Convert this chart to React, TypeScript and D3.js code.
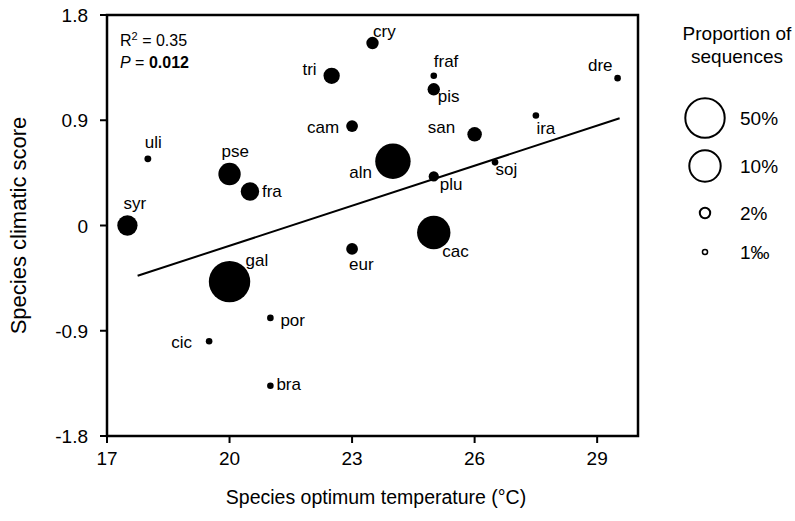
import React from "react";
import * as d3 from "d3";

const species = ["syr","uli","pse","fra","gal","cic","por","bra","tri","cam","eur","cry","aln","fraf","pis","plu","cac","san","soj","ira","dre"];
const optimumTemp = [17.5,18,20,20.5,20,19.5,21,21,22.5,23,23,23.5,24,25,25,25,25,26,26.5,27.5,29.5];
const climaticScore = [0.0,0.57,0.44,0.29,-0.48,-0.99,-0.79,-1.37,1.28,0.85,-0.2,1.56,0.55,1.28,1.165,0.42,-0.06,0.78,0.54,0.94,1.26];
const proportion = [0.05,0.002,0.058,0.043,0.5,0.001,0.001,0.001,0.035,0.018,0.018,0.02,0.2,0.001,0.02,0.013,0.1,0.028,0.001,0.001,0.001];

const xTicks = [17,20,23,26,29];
const yTicks = [1.8,0.9,0,-0.9,-1.8];
const yTickLabels = ["1.8","0.9","0","-0.9","-1.8"];
const legendProps = [0.5,0.1,0.02,0.001];
const legendLabels = ["50%","10%","2%","1‰"];
const trendX = [17.75,29.55];
const trendSlope = 0.1141;
const trendIntercept = -2.455;

// label placement (style): [dx, dy, anchor]
const labelPos: Record<string, [number, number, string]> = {
  syr: [-4, -17, "start"], uli: [-3, -11, "start"], pse: [-8, -17, "start"], fra: [12, 5, "start"],
  gal: [16, -16, "start"], cic: [-17, 7, "end"], por: [10, 8, "start"], bra: [6, 4.5, "start"],
  tri: [-15, -1, "end"], cam: [-13, 6.5, "end"], eur: [-3, 21, "start"], cry: [0.5, -6, "start"],
  aln: [-21, 17, "end"], fraf: [0, -8.5, "start"], pis: [4, 12.5, "start"], plu: [6, 13.5, "start"],
  cac: [8.5, 24, "start"], san: [-19.5, -1, "end"], soj: [0.5, 12.5, "start"], ira: [0.5, 18, "start"],
  dre: [-5, -7, "end"],
};
const legendY = [118, 166, 213, 252];

const W = 795, H = 521;
const L = 107, R = 638, T = 15, B = 436;
const FONT = "'Liberation Sans', Arial, sans-serif";

export default function App() {
  const x = d3.scaleLinear().domain([17, 30]).range([L, R]);
  const y = d3.scaleLinear().domain([-1.8, 1.8]).range([B, T]);
  const r = d3.scaleLinear().domain([0.001, 0.02, 0.1, 0.5]).range([3.3, 6.2, 16.7, 20.7]);
  const line = d3.line<number>().x(v => x(v)).y(v => y(trendIntercept + trendSlope * v));
  const order = d3.range(species.length).sort((a, b) => proportion[b] - proportion[a]);

  return (
    <svg width={W} height={H} style={{ position: "absolute", left: 0, top: 0, background: "#fff" }} fontFamily={FONT}>
      <rect x={0} y={0} width={W} height={H} fill="#fff" />
      <path d={line(trendX) || ""} stroke="#000" strokeWidth={2} fill="none" />
      {order.map(i => (
        <circle key={species[i]} cx={x(optimumTemp[i])} cy={y(climaticScore[i])} r={r(proportion[i])} fill="#000" />
      ))}
      {species.map((s, i) => {
        const [dx, dy, anchor] = labelPos[s];
        return (
          <text key={"l" + s} x={x(optimumTemp[i]) + dx} y={y(climaticScore[i]) + dy} fontSize={17} textAnchor={anchor as any} fill="#000">{s}</text>
        );
      })}
      <rect x={L} y={T} width={R - L} height={B - T} fill="none" stroke="#000" strokeWidth={2.5} />
      {xTicks.map(t => (
        <g key={"x" + t}>
          <line x1={x(t)} x2={x(t)} y1={B} y2={B + 7} stroke="#000" strokeWidth={2} />
          <text x={x(t)} y={B + 29} fontSize={19} textAnchor="middle">{t}</text>
        </g>
      ))}
      {yTicks.map((t, i) => (
        <g key={"y" + t}>
          <line x1={L - 7} x2={L} y1={y(t)} y2={y(t)} stroke="#000" strokeWidth={2} />
          <text x={L - 19} y={y(t) + 7} fontSize={19} textAnchor="end">{yTickLabels[i]}</text>
        </g>
      ))}
      <text x={376} y={504} fontSize={19.5} textAnchor="middle">Species optimum temperature (°C)</text>
      <text transform={`translate(26,${(T + B) / 2}) rotate(-90)`} fontSize={22} textAnchor="middle">Species climatic score</text>
      <text x={120} y={46} fontSize={16}>R<tspan dy={-6} fontSize={11}>2</tspan><tspan dy={6}> = 0.35</tspan></text>
      <text x={120} y={68} fontSize={16}><tspan fontStyle="italic">P</tspan> = <tspan fontWeight="bold">0.012</tspan></text>
      <text x={737} y={40} fontSize={19} textAnchor="middle">Proportion of</text>
      <text x={737} y={63} fontSize={19} textAnchor="middle">sequences</text>
      {legendProps.map((p, i) => {
        const cy = legendY[i];
        const sw = p < 0.01 ? 1.5 : 2;
        return (
          <g key={"lg" + i}>
            <circle cx={705} cy={cy} r={r(p) - sw / 2} fill="none" stroke="#000" strokeWidth={sw} />
            <text x={740} y={cy + 7} fontSize={19}>{legendLabels[i]}</text>
          </g>
        );
      })}
    </svg>
  );
}
